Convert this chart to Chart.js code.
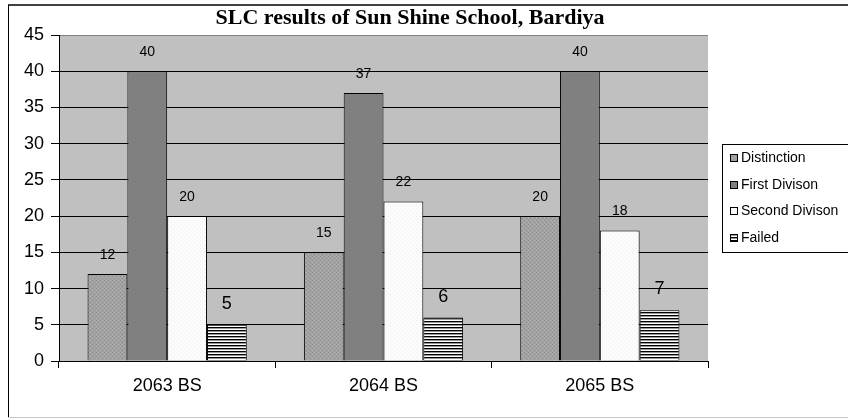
<!DOCTYPE html>
<html>
<head>
<meta charset="utf-8">
<script src="https://cdn.jsdelivr.net/npm/chart.js@4/dist/chart.umd.min.js"></script>
<style>
html,body{margin:0;padding:0;background:#fff;}
#wrap{position:relative;width:848px;height:420px;}
</style>
</head>
<body>
<div id="wrap"><canvas id="c" width="848" height="420"></canvas></div>
<script>
const chartTitle = "SLC results of Sun Shine School, Bardiya";
const categories = ["2063 BS", "2064 BS", "2065 BS"];
const seriesNames = ["Distinction", "First Divison", "Second Divison", "Failed"];
const distinction = [12, 15, 20];
const firstDivision = [40, 37, 40];
const secondDivision = [20, 22, 18];
const failed = [5, 6, 7];
const yTicks = [0, 5, 10, 15, 20, 25, 30, 35, 40, 45];

function makePattern(w, h, drawFn) {
  const c = document.createElement('canvas');
  c.width = w; c.height = h;
  const g = c.getContext('2d');
  drawFn(g);
  return g.createPattern(c, 'repeat');
}
const ctx = document.getElementById('c').getContext('2d');
const patDistinction = makePattern(4, 4, g => {
  g.fillStyle = '#a2a2a2'; g.fillRect(0, 0, 4, 4);
  g.fillStyle = '#8e8e8e'; g.fillRect(0, 0, 1, 1); g.fillRect(2, 2, 1, 1);
  g.fillStyle = '#b0b0b0'; g.fillRect(2, 0, 1, 1); g.fillRect(0, 2, 1, 1);
});
const patSecond = makePattern(4, 4, g => {
  g.fillStyle = '#fcfcfc'; g.fillRect(0, 0, 4, 4);
  g.fillStyle = '#ececec'; g.fillRect(0, 0, 1, 1); g.fillRect(2, 2, 1, 1);
});
const patFailed = makePattern(4, 3, g => {
  g.fillStyle = '#ffffff'; g.fillRect(0, 0, 4, 3);
  g.fillStyle = '#000000'; g.fillRect(0, 0, 4, 1);
  g.fillStyle = '#9a9a9a'; g.fillRect(0, 1, 4, 1);
});

const seriesValues = [distinction, firstDivision, secondDivision, failed];
const seriesFills = [patDistinction, '#808080', patSecond, patFailed];
const labelFontSizes = [14, 14, 14, 18];

const frameAndBg = {
  id: 'frameAndBg',
  beforeDraw(chart) {
    const g = chart.ctx, a = chart.chartArea;
    g.save();
    g.fillStyle = '#fff';
    g.fillRect(0, 0, chart.width, chart.height);
    g.fillStyle = '#c0c0c0';
    g.fillRect(a.left, a.top, a.right - a.left, a.bottom - a.top);
    // outer frame
    g.strokeStyle = '#000'; g.lineWidth = 1.5;
    g.beginPath(); g.moveTo(8, 5); g.lineTo(848, 5); g.stroke();
    g.lineWidth = 1;
    g.beginPath(); g.moveTo(8.5, 5); g.lineTo(8.5, 417); g.stroke();
    g.strokeStyle = '#c8c8c8';
    g.beginPath(); g.moveTo(8, 417.5); g.lineTo(848, 417.5); g.stroke();
    g.restore();
  },
  afterDraw(chart) {
    const g = chart.ctx;
    g.save();
    // title
    g.fillStyle = '#000';
    g.font = 'bold 22px "Liberation Serif"';
    g.textAlign = 'center'; g.textBaseline = 'middle';
    g.fillText(chartTitle, 410, 18);
    // legend
    const lx = 722.5, ly = 144.5;
    g.strokeStyle = '#000'; g.lineWidth = 1;
    g.strokeRect(lx, ly, 140, 108);
    g.font = '14px "Liberation Sans"';
    g.textAlign = 'left';
    chart.data.datasets.forEach((ds, i) => {
      const cy = 158 + i * 26.7;
      g.fillStyle = ds.backgroundColor;
      g.fillRect(730, Math.round(cy - 4), 7, 7);
      g.strokeStyle = '#000';
      g.strokeRect(730.5, Math.round(cy - 4) + 0.5, 7, 7);
      g.fillStyle = '#000';
      g.fillText(ds.label, 741, cy);
    });
    g.restore();
  },
  afterDatasetsDraw(chart) {
    const g = chart.ctx;
    g.save();
    g.fillStyle = '#000';
    g.textAlign = 'center'; g.textBaseline = 'middle';
    chart.data.datasets.forEach((ds, i) => {
      const meta = chart.getDatasetMeta(i);
      const fs = labelFontSizes[i];
      g.font = fs + 'px "Liberation Sans"';
      meta.data.forEach((el, j) => {
        g.fillText(String(ds.data[j]), el.x, el.y - (fs > 14 ? 21 : 19));
      });
    });
    g.restore();
  }
};

new Chart(ctx, {
  type: 'bar',
  data: {
    labels: categories,
    datasets: seriesNames.map((n, i) => ({
      label: n,
      data: seriesValues[i],
      backgroundColor: seriesFills[i],
      borderColor: '#000',
      borderWidth: 1,
      borderSkipped: 'bottom',
      barPercentage: 1,
      categoryPercentage: 0.736
    }))
  },
  options: {
    responsive: false,
    animation: false,
    devicePixelRatio: 1,
    layout: { padding: { left: 0, top: 35, right: 140, bottom: 0 } },
    plugins: { legend: { display: false }, title: { display: false }, tooltip: { enabled: false } },
    scales: {
      x: {
        grid: { display: true, drawOnChartArea: false, drawTicks: true, tickLength: 7, color: '#000', offset: true },
        border: { color: '#000', width: 1 },
        ticks: { color: '#000', font: { family: 'Liberation Sans', size: 18 }, padding: 7 },
        afterFit(s) { s.height = 59; }
      },
      y: {
        min: 0, max: 45,
        afterBuildTicks(s) { s.ticks = yTicks.map(v => ({ value: v })); },
        grid: {
          color: ctx => ctx.tick && ctx.tick.value === 45 ? '#808080' : '#000',
          lineWidth: 1, tickLength: 8, tickColor: '#000'
        },
        border: { color: '#000', width: 1 },
        ticks: { color: '#000', font: { family: 'Liberation Sans', size: 18 }, padding: 7 },
        afterFit(s) { s.width = 59; }
      }
    }
  },
  plugins: [frameAndBg]
});
</script>
</body>
</html>
